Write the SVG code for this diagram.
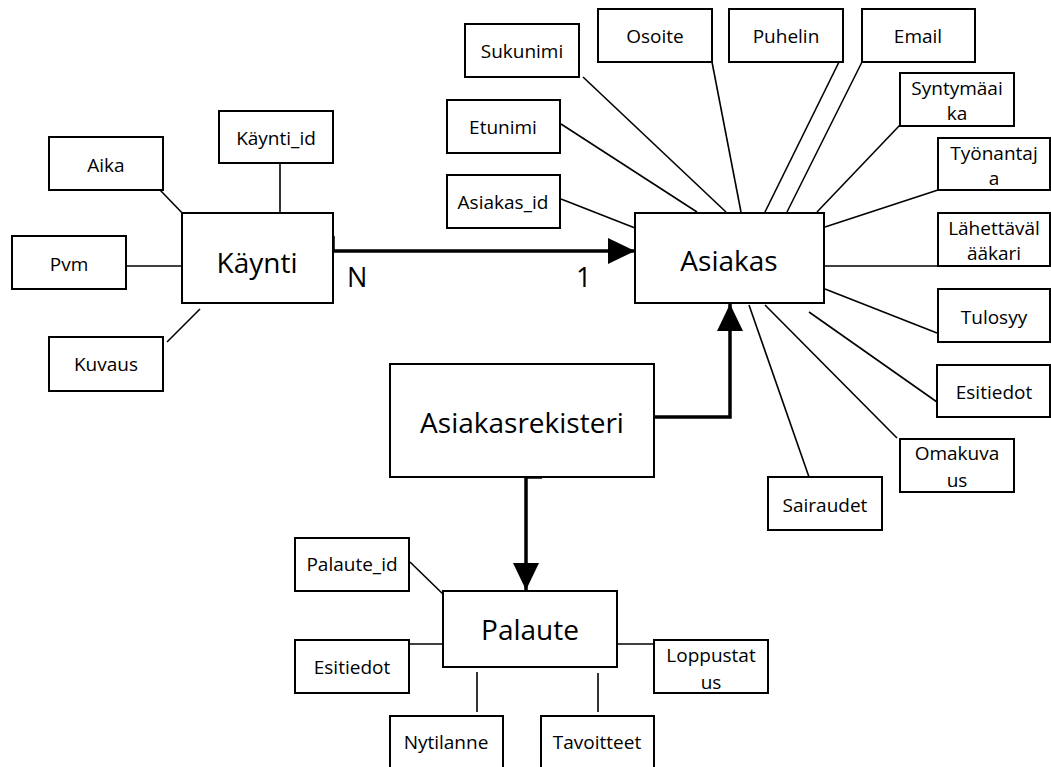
<svg xmlns="http://www.w3.org/2000/svg" width="1051" height="767" viewBox="0 0 1051 767">
<style>
.box{fill:#fff;stroke:#000;stroke-width:2}
.ln{stroke:#000;stroke-width:1.6;fill:none}
.thick{stroke:#000;stroke-width:3.5;fill:none}
.at{font-family:"Open Sans","Liberation Sans",sans-serif;font-size:19px;text-anchor:middle;dominant-baseline:central;fill:#000}
.en{font-family:"Open Sans","Liberation Sans",sans-serif;font-size:28px;text-anchor:middle;dominant-baseline:central;fill:#000}
.card{font-family:"Open Sans","Liberation Sans",sans-serif;font-size:27px;fill:#000}
</style>
<defs>
<marker id="arr" markerUnits="userSpaceOnUse" markerWidth="28" markerHeight="28" refX="27" refY="13" orient="auto">
<path d="M0,0 L27,13 L0,26 Z" fill="#000"/>
</marker>
</defs>
<rect width="1051" height="767" fill="#fff"/>
<g id="connectors">
<line class="ln" x1="280" y1="160" x2="280" y2="213"/>
<line class="ln" x1="160" y1="190" x2="188" y2="219"/>
<line class="ln" x1="122" y1="266" x2="182" y2="266"/>
<line class="ln" x1="200" y1="309" x2="167" y2="342"/>
<line class="ln" x1="561" y1="124" x2="697" y2="212"/>
<line class="ln" x1="583" y1="77" x2="726" y2="212"/>
<line class="ln" x1="712" y1="62" x2="741" y2="212"/>
<line class="ln" x1="839" y1="62" x2="765" y2="212"/>
<line class="ln" x1="862" y1="62" x2="787" y2="212"/>
<line class="ln" x1="900" y1="125" x2="817" y2="212"/>
<line class="ln" x1="561" y1="199" x2="635" y2="228"/>
<line class="ln" x1="938" y1="190" x2="825" y2="227"/>
<line class="ln" x1="825" y1="266" x2="938" y2="266"/>
<line class="ln" x1="825" y1="289" x2="937" y2="333"/>
<line class="ln" x1="809" y1="312" x2="937" y2="402"/>
<line class="ln" x1="765" y1="305" x2="897" y2="438"/>
<line class="ln" x1="749" y1="305" x2="809" y2="477"/>
<line class="ln" x1="410" y1="562" x2="447" y2="598"/>
<line class="ln" x1="409" y1="644" x2="443" y2="644"/>
<line class="ln" x1="617" y1="644" x2="659" y2="644"/>
<line class="ln" x1="477" y1="672" x2="477" y2="712"/>
<line class="ln" x1="598" y1="673" x2="598" y2="712"/>
<path class="thick" d="M333,236 V251 H635" marker-end="url(#arr)"/>
<path class="thick" d="M654,417 H730 V304" marker-end="url(#arr)"/>
<path class="thick" d="M542,477 H526 V590" marker-end="url(#arr)"/>
<text class="card" x="347" y="287">N</text>
<text class="card" x="576" y="287">1</text>
</g>
<g id="kaynti"><rect class="box" x="182" y="213" width="151" height="90"/><text class="en" x="257" y="262">Käynti</text></g>
<g id="kaynti_id"><rect class="box" x="219" y="111" width="114" height="52"/><text class="at" x="276" y="138">Käynti_id</text></g>
<g id="aika"><rect class="box" x="49" y="137" width="114" height="53"/><text class="at" x="106" y="165">Aika</text></g>
<g id="pvm"><rect class="box" x="12" y="236" width="114" height="53"/><text class="at" x="69" y="264">Pvm</text></g>
<g id="kuvaus"><rect class="box" x="49" y="337" width="114" height="54"/><text class="at" x="106" y="364">Kuvaus</text></g>
<g id="asiakas"><rect class="box" x="635" y="213" width="189" height="90"/><text class="en" x="729" y="260">Asiakas</text></g>
<g id="sukunimi"><rect class="box" x="465" y="24" width="114" height="53"/><text class="at" x="522" y="51">Sukunimi</text></g>
<g id="osoite"><rect class="box" x="598" y="9" width="114" height="53"/><text class="at" x="655" y="36">Osoite</text></g>
<g id="puhelin"><rect class="box" x="729" y="9" width="114" height="53"/><text class="at" x="786" y="36">Puhelin</text></g>
<g id="email"><rect class="box" x="862" y="9" width="113" height="53"/><text class="at" x="918" y="36">Email</text></g>
<g id="etunimi"><rect class="box" x="447" y="100" width="113" height="53"/><text class="at" x="503" y="127">Etunimi</text></g>
<g id="asiakas_id"><rect class="box" x="447" y="175" width="113" height="53"/><text class="at" x="503" y="202">Asiakas_id</text></g>
<g id="syntymaaika"><rect class="box" x="900" y="73" width="114" height="53"/><text class="at" x="957" y="88">Syntymäai</text><text class="at" x="957" y="113">ka</text></g>
<g id="tyonantaja"><rect class="box" x="938" y="138" width="112" height="52"/><text class="at" x="994" y="153">Työnantaj</text><text class="at" x="994" y="178">a</text></g>
<g id="lahettavalaakari"><rect class="box" x="938" y="213" width="112" height="53"/><text class="at" x="994" y="228">Lähettäväl</text><text class="at" x="994" y="253">ääkari</text></g>
<g id="tulosyy"><rect class="box" x="938" y="289" width="112" height="53"/><text class="at" x="994" y="317">Tulosyy</text></g>
<g id="esitiedot_a"><rect class="box" x="937" y="365" width="113" height="52"/><text class="at" x="994" y="392">Esitiedot</text></g>
<g id="omakuvaus"><rect class="box" x="900" y="439" width="114" height="53"/><text class="at" x="957" y="453">Omakuva</text><text class="at" x="957" y="480">us</text></g>
<g id="sairaudet"><rect class="box" x="768" y="477" width="114" height="53"/><text class="at" x="825" y="505">Sairaudet</text></g>
<g id="asiakasrekisteri"><rect class="box" x="390" y="364" width="264" height="113"/><text class="en" x="522" y="422">Asiakasrekisteri</text></g>
<g id="palaute"><rect class="box" x="443" y="591" width="174" height="76"/><text class="en" x="530" y="629">Palaute</text></g>
<g id="palaute_id"><rect class="box" x="295" y="538" width="114" height="53"/><text class="at" x="352" y="564">Palaute_id</text></g>
<g id="esitiedot_p"><rect class="box" x="295" y="640" width="114" height="53"/><text class="at" x="352" y="667">Esitiedot</text></g>
<g id="loppustatus"><rect class="box" x="654" y="640" width="114" height="53"/><text class="at" x="711" y="655">Loppustat</text><text class="at" x="711" y="682">us</text></g>
<g id="nytilanne"><rect class="box" x="390" y="716" width="113" height="54"/><text class="at" x="446" y="742">Nytilanne</text></g>
<g id="tavoitteet"><rect class="box" x="541" y="716" width="113" height="54"/><text class="at" x="597" y="742">Tavoitteet</text></g>
</svg>
